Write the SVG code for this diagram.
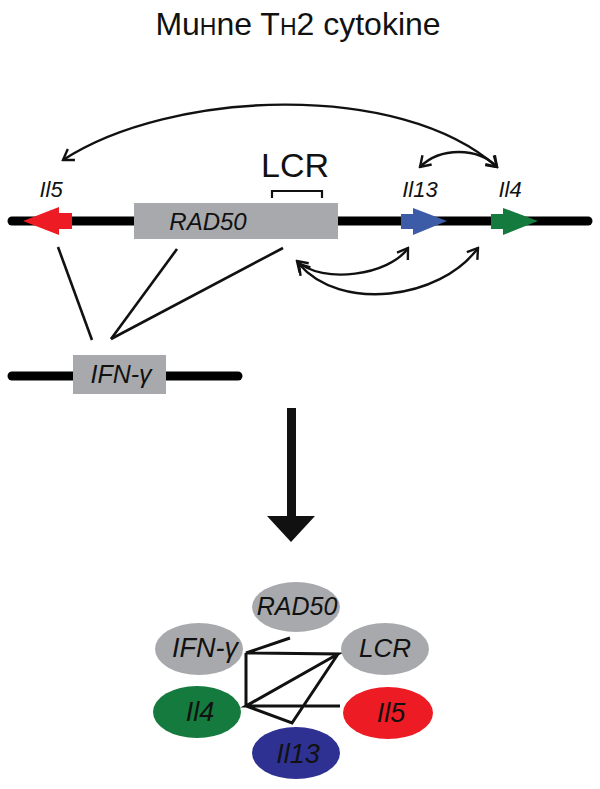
<svg xmlns="http://www.w3.org/2000/svg" width="600" height="789" viewBox="0 0 600 789">
<style>
text{font-family:"Liberation Sans",Arial,sans-serif;fill:#111}
.it{font-style:italic}
.chrom{stroke:#000;stroke-width:9;stroke-linecap:round;fill:none}
.thin{stroke:#111;stroke-width:2.6;fill:none}
.arc{stroke:#111;stroke-width:2.4;fill:none;marker-start:url(#oa);marker-end:url(#oa)}
.net{stroke:#111;stroke-width:3;fill:none;stroke-linejoin:miter}
.gray{fill:#a7a9ac}
</style>
<defs>
<marker id="oa" viewBox="-12 -8 14 16" markerWidth="14" markerHeight="16" markerUnits="userSpaceOnUse" orient="auto-start-reverse" refX="0" refY="0">
<path d="M-10,-6.5 L0,0 L-10,6.5" fill="none" stroke="#111" stroke-width="2.4"/>
</marker>
</defs>
<text x="298" y="35" font-size="32" text-anchor="middle">Mu<tspan font-size="23">H</tspan>ne T<tspan font-size="23">H</tspan>2 cytokine</text>

<g id="chromosome-th2">
<line class="chrom" x1="12" y1="221" x2="588" y2="221"/>
</g>
<g id="RAD50">
<rect class="gray" x="134" y="203" width="204" height="36"/>
<text class="it" x="208" y="230" font-size="24" text-anchor="middle">RAD50</text>
</g>
<g id="LCR">
<text x="295" y="177" font-size="34" text-anchor="middle">LCR</text>
<path d="M272,198 V191 H322 V198" fill="none" stroke="#111" stroke-width="2.2"/>
</g>
<g id="Il5">
<path d="M23,221 L59,207 L59,213 L72,213 L72,229 L59,229 L59,235 Z" fill="#ed1c24"/>
<text class="it" x="51" y="197" font-size="22" text-anchor="middle">Il5</text>
</g>
<g id="Il13">
<path d="M401,214 L413,214 L413,208 L447,221 L413,235 L413,229 L401,229 Z" fill="#3c5ca8"/>
<text class="it" x="420" y="197" font-size="22" text-anchor="middle">Il13</text>
</g>
<g id="Il4">
<path d="M491,214 L503,214 L503,208 L538,221 L503,235 L503,229 L491,229 Z" fill="#157a3d"/>
<text class="it" x="510" y="197" font-size="22" text-anchor="middle">Il4</text>
</g>
<g id="chromosome-ifng">
<line class="chrom" x1="12" y1="376" x2="238" y2="376"/>
<rect class="gray" x="73" y="355" width="93" height="39"/>
<text class="it" x="121" y="383" font-size="25" text-anchor="middle">IFN-γ</text>
</g>

<g id="connectors">
<path class="arc" d="M63,160 C170,90 400,80 497,167"/>
<path class="arc" d="M420,167 C440,147 478,147 497,167"/>
<path class="arc" d="M297,261 C322,285 390,275 408,248"/>
<path class="arc" d="M299,264 C340,312 440,300 478,248"/>
<line class="thin" x1="58" y1="247" x2="92" y2="340"/>
<line class="thin" x1="177" y1="249" x2="111" y2="339"/>
<line class="thin" x1="283" y1="248" x2="111" y2="339"/>
<rect x="287" y="408" width="9" height="110" fill="#111"/>
<path d="M267,516 L315,516 L291,542 Z" fill="#111"/>
<path class="net" d="M290,638 L246,653 L338,654 L246,706 L340,706 M246,653 V706 L292,723 L338,654"/>
</g>

<g id="n-RAD50">
<ellipse class="gray" cx="296" cy="607" rx="44" ry="25"/>
<text class="it" x="297" y="615" font-size="25" text-anchor="middle">RAD50</text>
</g>
<g id="n-IFNg">
<ellipse class="gray" cx="199" cy="649" rx="44" ry="26"/>
<text class="it" x="205" y="657" font-size="27" text-anchor="middle">IFN-γ</text>
</g>
<g id="n-LCR">
<ellipse class="gray" cx="385" cy="649" rx="44" ry="26"/>
<text class="it" x="385" y="657" font-size="26" text-anchor="middle">LCR</text>
</g>
<g id="n-Il4">
<ellipse cx="197" cy="712" rx="44" ry="26" fill="#157a3d"/>
<text class="it" x="200" y="721" font-size="27" text-anchor="middle">Il4</text>
</g>
<g id="n-Il5">
<ellipse cx="388" cy="713" rx="45" ry="26" fill="#ed1c24"/>
<text class="it" x="391" y="722" font-size="27" text-anchor="middle">Il5</text>
</g>
<g id="n-Il13">
<ellipse cx="296" cy="753" rx="44" ry="26" fill="#2e3192"/>
<text class="it" x="298" y="763" font-size="27" text-anchor="middle">Il13</text>
</g>
</svg>
